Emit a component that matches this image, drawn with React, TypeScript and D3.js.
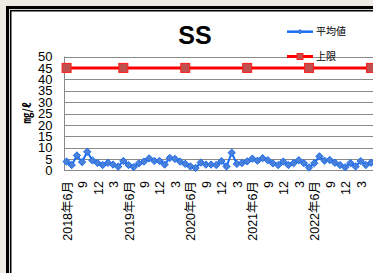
import React, { useEffect, useRef } from "react";
import * as d3 from "d3";

// monthly SS averages, 2018-06 .. 2023-05
const averageValues = [
    3.9, 2.4, 6.6, 3.7, 8.2, 4.4, 3.3, 2.4, 3.4, 2.6, 1.7, 4.2,
    2.4, 1.5, 3.1, 3.9, 5.3, 4.2, 4.2, 2.6, 5.5, 5.1, 3.9, 2.9,
    1.8, 1.1, 3.5, 2.6, 2.6, 2.4, 4.1, 1.8, 7.8, 2.9, 3.3, 4.0,
    5.2, 4.3, 5.4, 4.5, 3.1, 2.4, 3.9, 2.4, 3.2, 4.5, 3.2, 1.3,
    3.2, 6.2, 4.3, 4.6, 3.4, 2.4, 1.4, 3.3, 1.8, 4.1, 2.4, 3.4,
];

// upper limit series (only a few points given)
const limitMonths = ["2018-06", "2019-05", "2020-05", "2021-05", "2022-05", "2023-05"];
const limitValues = [45, 45, 45, 45, 45, 45];

const xTickLabels = [
    "2018年6月", "9", "12", "3",
    "2019年6月", "9", "12", "3",
    "2020年6月", "9", "12", "3",
    "2021年6月", "9", "12", "3",
    "2022年6月", "9", "12", "3",
];
const yTicks = [0, 5, 10, 15, 20, 25, 30, 35, 40, 45, 50];

const W = 373;
const H = 273;

const App = () => {
    const ref = useRef(null);

    useEffect(() => {
        const svg = d3.select(ref.current);
        svg.selectAll("*").remove();

        const fmt = d3.timeFormat("%Y-%m");
        const months = d3.timeMonth
            .range(new Date(2018, 5, 1), new Date(2023, 5, 1))
            .map((d) => fmt(d));

        const x = d3.scaleBand().domain(months).range([64, 64 + months.length * 5.16]);
        const cx = (m) => x(m) + x.bandwidth() / 2;
        const y = d3.scaleLinear().domain([0, 50]).range([170.5, 56.5]);

        // page background + frame
        svg.append("rect").attr("width", W).attr("height", H).attr("fill", "#eeebe5");
        svg.append("rect").attr("x", 6).attr("y", 6).attr("width", 600).attr("height", 600).attr("fill", "#000");
        svg.append("rect").attr("x", 9).attr("y", 9).attr("width", 600).attr("height", 600).attr("fill", "#d8d5cf");
        svg.append("rect").attr("x", 10).attr("y", 10).attr("width", 600).attr("height", 600).attr("fill", "#000");
        svg.append("rect").attr("x", 11.5).attr("y", 11.5).attr("width", 600).attr("height", 600).attr("fill", "#fff");

        // gridlines
        svg.append("g")
            .selectAll("line")
            .data(yTicks.filter((t) => t > 0))
            .enter()
            .append("line")
            .attr("x1", 64)
            .attr("x2", W)
            .attr("y1", (d) => Math.round(y(d)) + 0.5)
            .attr("y2", (d) => Math.round(y(d)) + 0.5)
            .attr("stroke", "#8a8a8a")
            .attr("stroke-width", 1);

        // axes lines
        svg.append("line").attr("x1", 64.5).attr("x2", 64.5).attr("y1", 56.5).attr("y2", 171)
            .attr("stroke", "#8a8a8a");
        svg.append("line").attr("x1", 64).attr("x2", W).attr("y1", 170.5).attr("y2", 170.5)
            .attr("stroke", "#8a8a8a");

        // y tick labels
        svg.append("g")
            .selectAll("text")
            .data(yTicks)
            .enter()
            .append("text")
            .attr("x", 52.5)
            .attr("y", (d) => y(d))
            .attr("dy", "0.36em")
            .attr("text-anchor", "end")
            .style("font-family", "'Liberation Sans', Arial, sans-serif")
            .style("font-size", "13px")
            .text((d) => d);

        // x tick labels (every 3 months)
        svg.append("g")
            .selectAll("text")
            .data(xTickLabels)
            .enter()
            .append("text")
            .attr("transform", (d, i) => `translate(${cx(months[i * 3]) + 0.5},181) rotate(-90)`)
            .attr("dy", "0.36em")
            .attr("text-anchor", "end")
            .style("font-family", "'Liberation Sans', 'Noto Sans CJK JP', sans-serif")
            .style("font-size", "12.5px")
            .text((d) => d);

        // y axis title
        svg.append("text")
            .attr("transform", "translate(27,113) rotate(-90)")
            .attr("dy", "0.36em")
            .attr("text-anchor", "middle")
            .style("font-family", "'Noto Sans CJK JP', sans-serif")
            .style("font-size", "11px")
            .style("font-weight", "bold")
            .text("㎎/ℓ");

        // title
        svg.append("text")
            .attr("x", 195)
            .attr("y", 44)
            .attr("text-anchor", "middle")
            .style("font-family", "'Liberation Sans', Arial, sans-serif")
            .style("font-size", "25px")
            .style("font-weight", "bold")
            .text("SS");

        // upper limit line
        const limitData = limitMonths.map((m, i) => ({ m, v: limitValues[i] }));
        svg.append("path")
            .datum(limitData)
            .attr("fill", "none")
            .attr("stroke", "#ff0000")
            .attr("stroke-width", 3)
            .attr("d", d3.line().x((d) => cx(d.m)).y((d) => y(d.v)));
        svg.append("g")
            .selectAll("rect")
            .data(limitData)
            .enter()
            .append("rect")
            .attr("x", (d) => cx(d.m) - 4.5)
            .attr("y", (d) => y(d.v) - 4.5)
            .attr("width", 9)
            .attr("height", 9)
            .attr("fill", "#c0504d")
            .attr("stroke", "#ff1a1a")
            .attr("stroke-width", 1);

        // average line
        const avgData = months.map((m, i) => ({ m, v: averageValues[i] }));
        svg.append("path")
            .datum(avgData)
            .attr("fill", "none")
            .attr("stroke", "#1a6cf0")
            .attr("stroke-width", 2)
            .attr("d", d3.line().x((d) => cx(d.m)).y((d) => y(d.v)));
        const diamond = d3.symbol().type(d3.symbolDiamond2).size(34);
        svg.append("g")
            .selectAll("path")
            .data(avgData)
            .enter()
            .append("path")
            .attr("transform", (d) => `translate(${cx(d.m)},${y(d.v)})`)
            .attr("d", diamond)
            .attr("fill", "#4a80d8")
            .attr("stroke", "#1a6cf0")
            .attr("stroke-width", 1);

        // legend
        const legend = svg.append("g").style("font-family", "'Noto Sans CJK JP', sans-serif").style("font-size", "10px");
        legend.append("line").attr("x1", 287).attr("x2", 313).attr("y1", 31.7).attr("y2", 31.7)
            .attr("stroke", "#1a6cf0").attr("stroke-width", 2.5);
        legend.append("path").attr("transform", "translate(300,31.7)")
            .attr("d", d3.symbol().type(d3.symbolDiamond2).size(12))
            .attr("fill", "#4a80d8").attr("stroke", "#1a6cf0");
        legend.append("text").attr("x", 316).attr("y", 31.7).attr("dy", "0.36em").text("平均値");
        legend.append("line").attr("x1", 287).attr("x2", 313).attr("y1", 56.5).attr("y2", 56.5)
            .attr("stroke", "#ff0000").attr("stroke-width", 3);
        legend.append("rect").attr("x", 297).attr("y", 53.5).attr("width", 6).attr("height", 6)
            .attr("fill", "#c0504d").attr("stroke", "#ff1a1a");
        legend.append("text").attr("x", 316).attr("y", 56.5).attr("dy", "0.36em").text("上限");
    });

    return (
        <svg
            ref={ref}
            width={W}
            height={H}
            style={{ position: "absolute", left: 0, top: 0, display: "block" }}
        ></svg>
    );
};

export default App;
